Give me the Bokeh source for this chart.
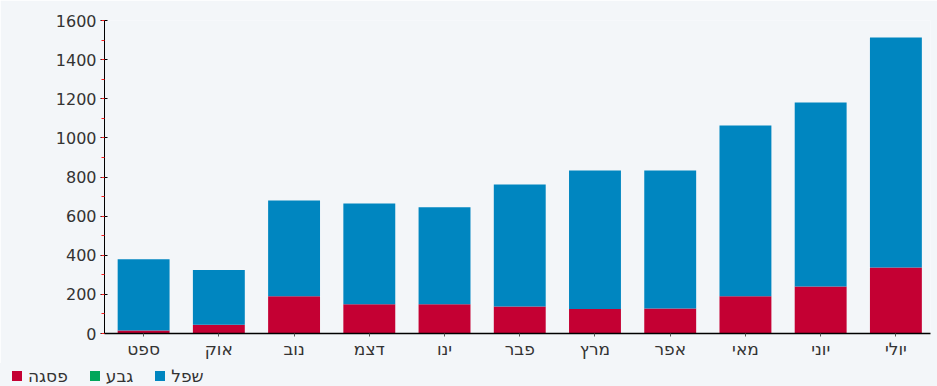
from bokeh.plotting import figure
from bokeh.models import ColumnDataSource, FixedTicker, Range1d, Div
from bokeh.layouts import column
from bokeh.embed import file_html
from bokeh.resources import INLINE

months = ["ספט", "אוק", "נוב", "דצמ", "ינו", "פבר", "מרץ", "אפר", "מאי", "יוני", "יולי"]
peak = [15, 45, 190, 150, 150, 138, 125, 128, 190, 240, 337]      # פסגה
mid = [0, 0, 0, 0, 0, 0, 0, 0, 0, 0, 0]                            # גבע
low = [365, 280, 490, 515, 495, 624, 708, 705, 873, 941, 1176]     # שפל
series_names = ["פסגה", "גבע", "שפל"]
colors = ["#c40033", "#00a65a", "#0086c0"]
y_ticks = [0, 200, 400, 600, 800, 1000, 1200, 1400, 1600]

xs = list(range(len(months)))
src = ColumnDataSource(dict(
    x=xs,
    b0=[0] * len(xs),
    t0=peak,
    t1=[a + b for a, b in zip(peak, mid)],
    t2=[a + b + c for a, b, c in zip(peak, mid, low)],
))

bg = "#f3f6f9"
p = figure(width=937, height=363, output_backend="svg", toolbar_location=None,
           x_range=Range1d(-0.52, 10.46), y_range=Range1d(0, 1600),
           min_border_left=104, min_border_right=7, min_border_top=20, min_border_bottom=30,
           background_fill_color=bg, border_fill_color=bg)
p.outline_line_color = None
p.grid.visible = False

w = 0.69
p.vbar(x="x", bottom="b0", top="t0", width=w, source=src, fill_color=colors[0], line_color=None)
p.vbar(x="x", bottom="t0", top="t1", width=w, source=src, fill_color=colors[1], line_color=None)
p.vbar(x="x", bottom="t1", top="t2", width=w, source=src, fill_color=colors[2], line_color=None)

ax = p.xaxis[0]
ax.ticker = FixedTicker(ticks=xs)
ax.major_label_overrides = {i: m for i, m in enumerate(months)}
ax.major_label_text_font = "DejaVu Sans"
ax.major_label_text_font_size = "17px"
ax.major_label_text_color = "#333333"
ax.major_tick_in = 0
ax.major_tick_out = 3
ax.major_tick_line_color = "#555555"
ax.minor_tick_line_color = None
ax.axis_line_color = "#000000"
ax.axis_line_width = 1.5
ax.major_label_standoff = 2

ay = p.yaxis[0]
ay.ticker = FixedTicker(ticks=y_ticks, minor_ticks=list(range(0, 1700, 100)))
ay.major_label_text_font = "DejaVu Sans"
ay.major_label_text_font_size = "16px"
ay.major_label_text_color = "#333333"
ay.major_tick_in = 3
ay.major_tick_out = 4
ay.major_tick_line_color = "#000000"
ay.minor_tick_line_color = "#ff2020"
ay.minor_tick_in = 0
ay.minor_tick_out = 3
ay.axis_line_color = "#000000"
ay.major_label_standoff = 4

# legend strip below the chart
items = "".join(
    '<span style="display:inline-flex;align-items:center;margin-right:22px;">'
    f'<span style="display:inline-block;width:10px;height:10px;background:{c};margin-right:6px;"></span>'
    f'<span>{n}</span></span>'
    for n, c in zip(series_names, colors)
)
html = ('<div dir="ltr" style="display:flex;align-items:center;height:23px;box-sizing:border-box;'
        'padding-left:12px;padding-top:3px;font-family:\'DejaVu Sans\';font-size:17px;color:#333333;">'
        + items + '</div>')
legend_div = Div(text=html, width=937, height=23, margin=0, styles={"background-color": bg})

open("out.html", "w").write(file_html(column(p, legend_div, spacing=0), INLINE))
